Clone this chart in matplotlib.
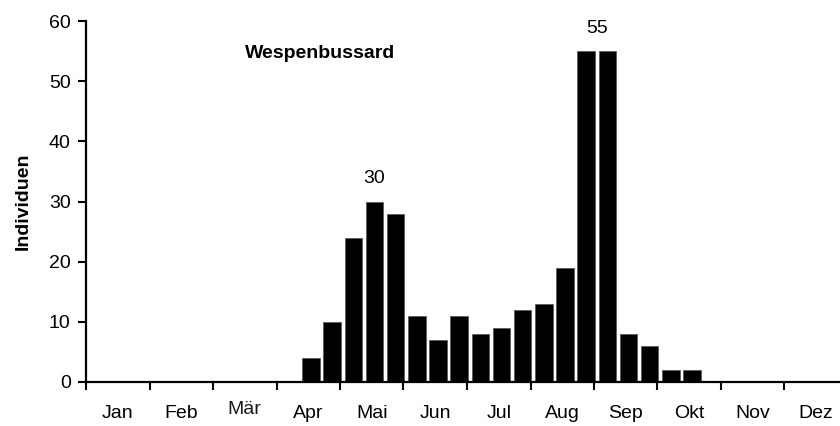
import matplotlib
matplotlib.use("Agg")
import matplotlib.pyplot as plt
import matplotlib.transforms as mtransforms
import numpy as np

plt.rcParams['font.family'] = ['Liberation Sans', 'DejaVu Sans']

months = ["Jan", "Feb", "Mär", "Apr", "Mai", "Jun", "Jul", "Aug", "Sep", "Okt", "Nov", "Dez"]

# counts per decade (3 per month), Jan 1 .. Dez 3
counts = [0, 0, 0,   0, 0, 0,   0, 0, 0,
          0, 4, 10,  24, 30, 28,  11, 7, 11,
          8, 9, 12,  13, 19, 55,  55, 8, 6,
          2, 2, 0,   0, 0, 0,   0, 0, 0]

peak_labels = {13: "30", 23: "55"}

fig = plt.figure(figsize=(8.4, 4.26), dpi=100)
ax = fig.add_axes([86 / 840, 44 / 426, 762 / 840, 361 / 426])

x = np.arange(len(counts)) + 0.5 + 0.13
ax.bar(x, counts, width=0.83, color="black", edgecolor="#555555", linewidth=0.5)

for i, txt in peak_labels.items():
    xi = x[i] if txt == "30" else x[i] + 0.5
    ax.text(xi, counts[i] + 3, txt, ha="center", va="baseline", fontsize=14)

ax.text(7.5, 54.6, "Wespenbussard", ha="left", va="center", fontsize=14, fontweight="bold")

ax.set_xlim(0, 36)
ax.set_ylim(0, 60)
ax.set_yticks(range(0, 61, 10))
ax.set_xticks(np.arange(0, 37, 3))
ax.set_xticklabels([])
ax.set_xticks(np.arange(1.5, 36, 3), minor=True)
ax.set_xticklabels(months, minor=True)
ax.tick_params(axis="x", which="minor", length=0, pad=16.5, labelsize=14)
ax.tick_params(axis="x", which="major", length=6, width=1.5, direction="out")
ax.tick_params(axis="y", length=6, width=1.5, direction="out", labelsize=14, pad=5)

for lab in ax.get_xticklabels(minor=True):
    if lab.get_text() == "Mär":
        lab.set_transform(lab.get_transform() + mtransforms.ScaledTranslation(0, 3 / 72, fig.dpi_scale_trans))
        lab.set_color("#1a1a1a")

ax.set_ylabel("Individuen", fontsize=14, fontweight="bold", labelpad=12)

for s in ["top", "right"]:
    ax.spines[s].set_visible(False)
for s in ["left", "bottom"]:
    ax.spines[s].set_linewidth(1.6)

fig.savefig("out.png", dpi=100)
